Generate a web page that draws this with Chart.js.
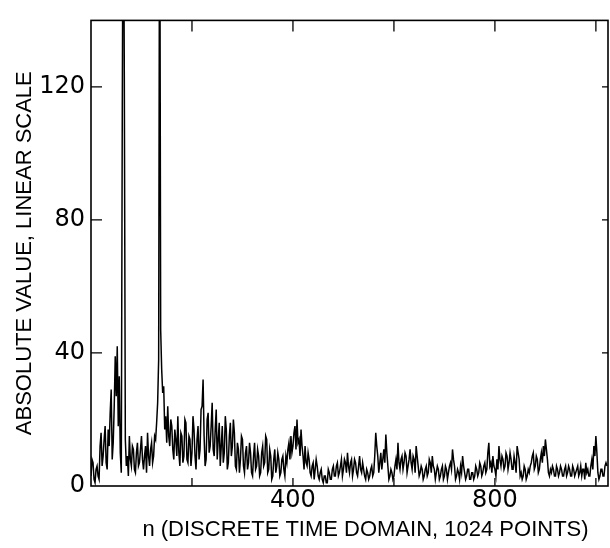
<!DOCTYPE html>
<html>
<head>
<meta charset="utf-8">
<script src="https://cdn.jsdelivr.net/npm/chart.js@4"></script>
<style>
body { margin: 0; background: #fff; }
#wrap { width: 610px; height: 548px; }
</style>
</head>
<body>
<div id="wrap"><canvas id="myChart" width="610" height="548"></canvas></div>
<script>
// |x[n]|, one value every 2 samples (n = 0, 2, ... 1022)
var step = 2;
var amplitude = [
    3, 8, 7, 2, 1, 5, 6, 3, 2, 12, 16, 6, 9, 14, 18, 7,
    5, 17, 12, 22, 29, 8, 13, 24, 39, 27, 42, 18, 33, 10, 4, 115,
    200, 122, 14, 6, 9, 3, 15, 8, 6, 12, 11, 5, 4, 10, 13, 6,
    7, 11, 15, 8, 5, 9, 12, 4, 16, 9, 6, 11, 13, 7, 9, 15,
    14, 19, 25, 38, 200, 47, 35, 28, 30, 17, 21, 13, 24, 15, 12, 20,
    18, 11, 8, 17, 14, 9, 21, 10, 6, 16, 15, 7, 9, 20, 19, 8,
    7, 15, 14, 6, 10, 21, 17, 9, 5, 14, 18, 8, 11, 23, 24, 32,
    15, 6, 8, 20, 22, 10, 12, 18, 25, 11, 9, 17, 23, 8, 14, 19,
    6, 12, 18, 7, 10, 21, 17, 5, 7, 15, 19, 9, 12, 20, 16, 6,
    5, 13, 11, 4, 8, 15, 14, 6, 4, 10, 12, 5, 7, 13, 10, 4,
    3, 9, 13, 5, 6, 11, 9, 3, 4, 10, 12, 6, 7, 15, 14, 4,
    5, 11, 9, 2, 3, 8, 11, 4, 6, 10, 8, 3, 4, 8, 9, 5,
    3, 9, 7, 11, 13, 8, 15, 10, 12, 16, 18, 11, 20, 13, 14, 9,
    17, 12, 9, 5, 12, 7, 6, 10, 8, 4, 3, 6, 7, 2, 5, 8,
    6, 3, 2, 4, 5, 2, 1, 3, 3, 1, 1, 5, 4, 2, 2, 5,
    6, 3, 3, 6, 7, 3, 4, 6, 8, 3, 5, 8, 7, 4, 10, 6,
    4, 7, 8, 3, 5, 8, 7, 4, 3, 6, 9, 5, 4, 7, 5, 3,
    2, 5, 4, 2, 3, 5, 6, 3, 4, 9, 16, 12, 9, 4, 7, 10,
    5, 8, 11, 7, 15.5, 10, 6, 2, 3, 5, 4, 2, 3, 6, 8, 5,
    13, 7, 5, 8, 9, 5, 7, 10, 9, 4, 6, 8, 11, 7, 5, 9,
    8, 4, 12, 9, 6, 3, 4, 6, 5, 2, 3, 5, 6, 3, 4, 8,
    7, 4, 9, 6, 5, 2, 4, 6, 5, 2, 3, 5, 6, 2, 3, 6,
    5, 2, 4, 6, 7, 5, 11, 8, 6, 2, 3, 5, 4, 2, 6, 4,
    9, 6, 4, 2, 3, 5, 5, 2, 2, 4, 4, 2, 3, 6, 5, 3,
    4, 7, 6, 3, 4, 6, 7, 4, 5, 10, 13, 6, 7, 4, 9, 6,
    5, 3, 8, 5, 12, 8, 6, 9, 8, 5, 6, 10, 9, 5, 7, 10,
    8, 5, 5, 9, 7, 4, 12, 10, 8, 3, 4, 2, 3, 6, 5, 2,
    3, 5, 4, 6, 7, 9, 10, 5, 6, 9, 8, 4, 5, 8, 10, 7,
    12, 9, 14, 11, 8, 4, 3, 5, 4, 6, 5, 3, 3, 6, 5, 3,
    4, 6, 5, 3, 3, 5, 6, 3, 4, 6, 5, 3, 3, 6, 5, 3,
    4, 5, 6, 3, 4, 6, 3, 5, 5, 2, 7, 4, 5, 3, 3, 6,
    8, 5, 12, 9, 15, 10, 4, 2, 3, 5, 5, 3, 3, 6, 7, 6
];
var xTicks = [200, 400, 600, 800, 1000];
var xLabels = [400, 800];
var yTicks = [0, 40, 80, 120];
var xTitle = 'n (DISCRETE TIME DOMAIN, 1024 POINTS)';
var yTitle = 'ABSOLUTE VALUE, LINEAR SCALE';

var points = amplitude.map(function (v, i) {
    return { x: i * step, y: v };
});

// box round the plot with the ticks pointing inwards
var frame = {
    id: 'frame',
    afterDatasetsDraw: function (chart) {
        var ctx = chart.ctx, a = chart.chartArea;
        var xs = chart.scales.x, ys = chart.scales.y;
        ctx.save();
        ctx.strokeStyle = '#000';
        ctx.lineWidth = 1.6;
        ctx.strokeRect(a.left, a.top, a.right - a.left, a.bottom - a.top);
        ctx.lineWidth = 1.3;
        ctx.beginPath();
        xs.ticks.forEach(function (t) {
            var px = xs.getPixelForValue(t.value);
            ctx.moveTo(px, a.top);
            ctx.lineTo(px, a.top + 11);
            ctx.moveTo(px, a.bottom);
            ctx.lineTo(px, a.bottom - 8);
        });
        ys.ticks.forEach(function (t) {
            if (t.value === 0) return;
            var py = ys.getPixelForValue(t.value);
            ctx.moveTo(a.left, py);
            ctx.lineTo(a.left + 11, py);
            ctx.moveTo(a.right, py);
            ctx.lineTo(a.right - 6, py);
        });
        ctx.stroke();
        ctx.restore();
    }
};

var axisTitles = {
    id: 'axisTitles',
    afterDraw: function (chart) {
        var ctx = chart.ctx, a = chart.chartArea;
        ctx.save();
        ctx.fillStyle = '#000';
        ctx.font = '22px "Liberation Sans"';
        ctx.textAlign = 'center';
        ctx.textBaseline = 'middle';
        ctx.fillText(xTitle, (a.left + a.right) / 2 + 16, 530);
        ctx.translate(25, (a.top + a.bottom) / 2);
        ctx.rotate(-Math.PI / 2);
        ctx.fillText(yTitle, 0, 0);
        ctx.restore();
    }
};

var ctx = document.getElementById('myChart').getContext('2d');
var myChart = new Chart(ctx, {
    type: 'line',
    data: {
        datasets: [{
            data: points,
            borderColor: '#000',
            borderWidth: 1.5,
            pointRadius: 0,
            tension: 0,
            fill: false
        }]
    },
    options: {
        responsive: false,
        animation: false,
        layout: { padding: { top: 9, right: 2, left: 0, bottom: 0 } },
        plugins: {
            legend: { display: false },
            tooltip: { enabled: false }
        },
        scales: {
            x: {
                type: 'linear',
                min: 0,
                max: 1024,
                afterFit: function (s) { s.height = 62; },
                afterBuildTicks: function (s) {
                    s.ticks = xTicks.map(function (v) { return { value: v }; });
                },
                grid: { display: false, drawTicks: false },
                border: { display: false },
                ticks: {
                    padding: 0,
                    maxRotation: 0,
                    color: '#000',
                    font: { family: 'DejaVu Sans', size: 24 },
                    callback: function (v) {
                        return xLabels.indexOf(v) >= 0 ? String(v) : '';
                    }
                }
            },
            y: {
                min: 0,
                max: 140,
                afterFit: function (s) { s.width = 91; },
                afterBuildTicks: function (s) {
                    s.ticks = yTicks.map(function (v) { return { value: v }; });
                },
                grid: { display: false, drawTicks: false },
                border: { display: false },
                ticks: {
                    padding: 6,
                    color: '#000',
                    font: { family: 'DejaVu Sans', size: 24 }
                }
            }
        }
    },
    plugins: [frame, axisTitles]
});
</script>
</body>
</html>
